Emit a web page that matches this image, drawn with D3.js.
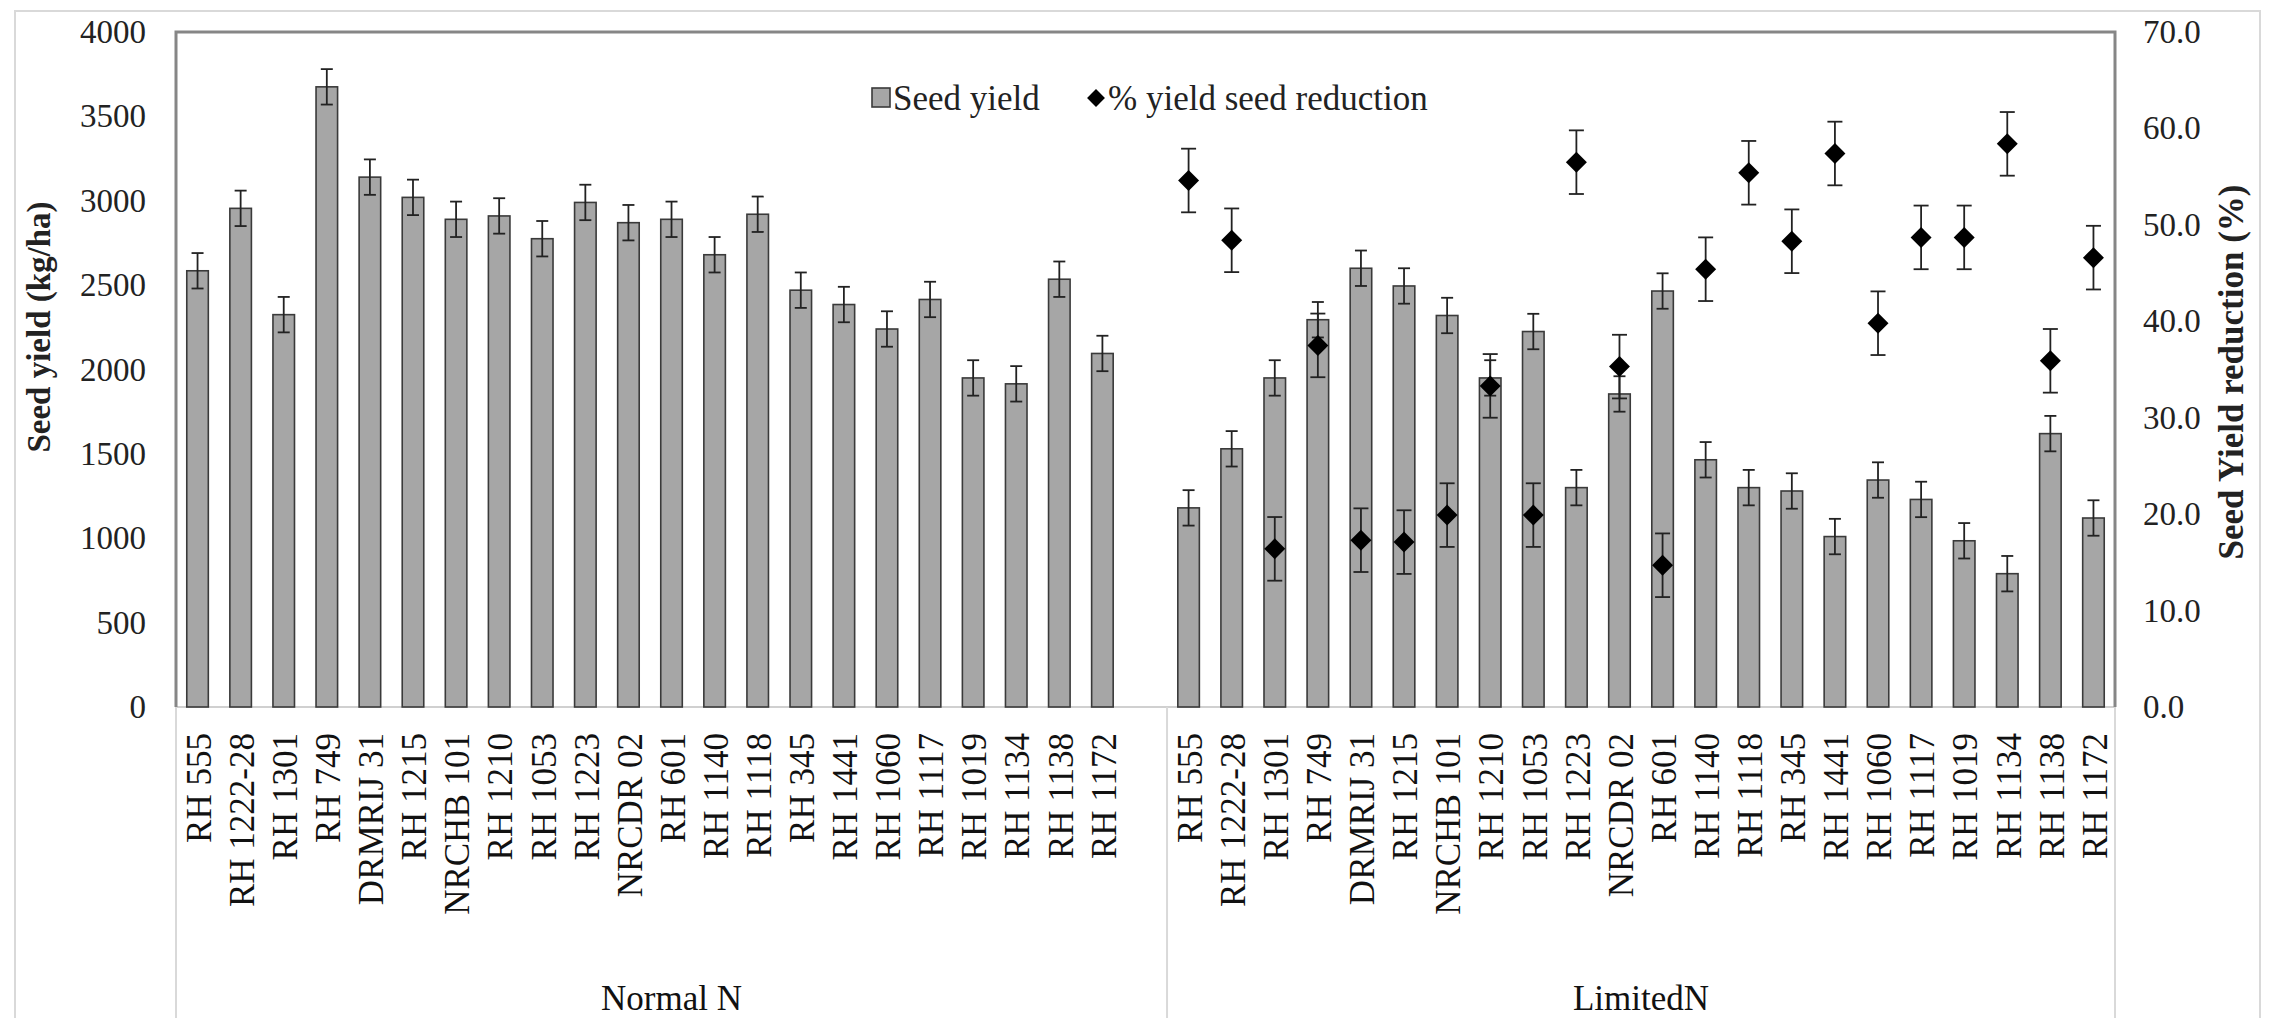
<!DOCTYPE html>
<html>
<head>
<meta charset="utf-8">
<script src="https://cdn.jsdelivr.net/npm/d3@7"></script>
<style>
  html, body { margin: 0; padding: 0; background: #fff; }
  svg { display: block; font-family: "Liberation Serif", "Times New Roman", serif; }
</style>
</head>
<body>
<div id="chart"></div>
<script>
// genotype order, same for both N levels
const genotypes = ['RH 555', 'RH 1222-28', 'RH 1301', 'RH 749', 'DRMRIJ 31', 'RH 1215', 'NRCHB 101',
  'RH 1210', 'RH 1053', 'RH 1223', 'NRCDR 02', 'RH 601', 'RH 1140', 'RH 1118', 'RH 345', 'RH 1441',
  'RH 1060', 'RH 1117', 'RH 1019', 'RH 1134', 'RH 1138', 'RH 1172'];
const groups = ['Normal N', 'LimitedN'];

// seed yield (kg/ha)
const yieldNormal = [2585, 2955, 2325, 3675, 3140, 3020, 2890, 2910, 2775, 2990, 2870, 2890,
  2680, 2920, 2470, 2385, 2240, 2415, 1950, 1915, 2535, 2095];
const yieldLimited = [1180, 1530, 1950, 2295, 2600, 2495, 2320, 1950, 2225, 1300, 1855, 2465,
  1465, 1300, 1280, 1010, 1345, 1230, 985, 790, 1620, 1120];
const yieldError = 105;

// % seed yield reduction under limited N
const reduction = [54.6, 48.4, 16.4, 37.5, 17.3, 17.1, 19.9, 33.3, 19.9, 56.5, 35.3, 14.7,
  45.4, 55.4, 48.3, 57.4, 39.8, 48.7, 48.7, 58.4, 35.9, 46.6];
const reductionError = 3.3;

const yTicks = [0, 500, 1000, 1500, 2000, 2500, 3000, 3500, 4000];
const y2Ticks = [0, 10, 20, 30, 40, 50, 60, 70];

const width = 2272, height = 1018;
const margin = {top: 32, right: 157, bottom: 311, left: 176};
const grey = '#a6a6a6';
const dark = '#3a3a3a';

const svg = d3.select('#chart').append('svg')
  .attr('width', width).attr('height', height);

// one slot per bar, an empty slot closes the Normal N block
const slots = [];
genotypes.forEach((g, i) => slots.push({key: 'N|' + g, label: g, value: yieldNormal[i], group: 0}));
slots.push({key: 'N|gap', label: '', value: null, group: 0});
genotypes.forEach((g, i) => slots.push({key: 'L|' + g, label: g, value: yieldLimited[i], group: 1, red: reduction[i]}));

const x = d3.scaleBand()
  .domain(slots.map(d => d.key))
  .range([margin.left, width - margin.right])
  .paddingInner(0.5).paddingOuter(0.25);

const y = d3.scaleLinear().domain([0, 4000]).range([height - margin.bottom, margin.top]);
const y2 = d3.scaleLinear().domain([0, 70]).range([height - margin.bottom, margin.top]);

const x0 = margin.left, x1 = width - margin.right;
const yBase = y(0);
const cx = d => x(d.key) + x.bandwidth() / 2;

// outer chart frame
svg.append('rect')
  .attr('x', 15).attr('y', 11).attr('width', 2245).attr('height', 1100)
  .attr('fill', 'none').attr('stroke', '#d9d9d9').attr('stroke-width', 2);

// category axis line and group dividers
svg.append('line')
  .attr('x1', x0).attr('x2', x1).attr('y1', yBase).attr('y2', yBase)
  .attr('stroke', '#d0d0d0').attr('stroke-width', 2);

const step = x.step();
const split = x0 + step * (genotypes.length + 1);
[x0, split, x1].forEach(px => {
  svg.append('line')
    .attr('x1', px).attr('x2', px).attr('y1', yBase).attr('y2', height)
    .attr('stroke', '#d9d9d9').attr('stroke-width', 2);
});

// bars
const barSlots = slots.filter(d => d.value !== null);
svg.append('g').selectAll('rect')
  .data(barSlots)
  .join('rect')
  .attr('x', d => x(d.key))
  .attr('y', d => y(d.value))
  .attr('width', x.bandwidth())
  .attr('height', d => yBase - y(d.value))
  .attr('fill', grey)
  .attr('stroke', dark)
  .attr('stroke-width', 1.6);

// yield error bars
const capW = 6;
const eb = svg.append('g').attr('stroke', '#222').attr('stroke-width', 1.8);
barSlots.forEach(d => {
  const top = y(d.value + yieldError), bot = y(d.value - yieldError);
  eb.append('line').attr('x1', cx(d)).attr('x2', cx(d)).attr('y1', top).attr('y2', bot);
  eb.append('line').attr('x1', cx(d) - capW).attr('x2', cx(d) + capW).attr('y1', top).attr('y2', top);
  eb.append('line').attr('x1', cx(d) - capW).attr('x2', cx(d) + capW).attr('y1', bot).attr('y2', bot);
});

// reduction points with error bars
const redSlots = slots.filter(d => d.red !== undefined);
const rb = svg.append('g').attr('stroke', '#222').attr('stroke-width', 1.8);
redSlots.forEach(d => {
  const top = y2(d.red + reductionError), bot = y2(d.red - reductionError);
  rb.append('line').attr('x1', cx(d)).attr('x2', cx(d)).attr('y1', top).attr('y2', bot);
  rb.append('line').attr('x1', cx(d) - 7.5).attr('x2', cx(d) + 7.5).attr('y1', top).attr('y2', top);
  rb.append('line').attr('x1', cx(d) - 7.5).attr('x2', cx(d) + 7.5).attr('y1', bot).attr('y2', bot);
});

const diamond = d3.symbol().type(d3.symbolSquare).size(220);
svg.append('g').selectAll('path')
  .data(redSlots)
  .join('path')
  .attr('d', diamond)
  .attr('transform', d => `translate(${cx(d)},${y2(d.red)}) rotate(45)`)
  .attr('fill', '#000');

// plot frame (top, left, right)
svg.append('path')
  .attr('d', `M${x0},${yBase}V${margin.top}H${x1}V${yBase}`)
  .attr('fill', 'none').attr('stroke', '#868686').attr('stroke-width', 3);

// left axis
svg.append('g')
  .attr('transform', `translate(${x0},0)`)
  .call(d3.axisLeft(y).tickValues(yTicks).tickSize(0).tickPadding(30).tickFormat(d3.format('d')))
  .call(g => g.select('.domain').remove())
  .selectAll('text')
  .attr('font-family', 'Liberation Serif').attr('font-size', 33).attr('fill', '#222');

// right axis
svg.append('g')
  .attr('transform', `translate(${x1},0)`)
  .call(d3.axisRight(y2).tickValues(y2Ticks).tickSize(0).tickPadding(28).tickFormat(d3.format('.1f')))
  .call(g => g.select('.domain').remove())
  .selectAll('text')
  .attr('font-family', 'Liberation Serif').attr('font-size', 33).attr('fill', '#222');

// category labels
svg.append('g').selectAll('text')
  .data(barSlots)
  .join('text')
  .attr('transform', d => `translate(${cx(d) + 1},${yBase + 26}) rotate(-90)`)
  .attr('dy', '0.35em')
  .attr('text-anchor', 'end')
  .attr('font-size', 35)
  .attr('fill', '#111')
  .text(d => d.label);

// group labels
[[x0, split], [split, x1]].forEach(([a, b], i) => {
  svg.append('text')
    .attr('x', (a + b) / 2).attr('y', 1010)
    .attr('text-anchor', 'middle')
    .attr('font-size', 35)
    .attr('fill', '#111')
    .text(groups[i]);
});

// axis titles
svg.append('text')
  .attr('transform', 'translate(50,327) rotate(-90)')
  .attr('text-anchor', 'middle')
  .attr('font-size', 33).attr('font-weight', 'bold').attr('fill', '#222')
  .text('Seed yield (kg/ha)');

svg.append('text')
  .attr('transform', 'translate(2243,372) rotate(-90)')
  .attr('text-anchor', 'middle')
  .attr('font-size', 35).attr('font-weight', 'bold').attr('fill', '#222')
  .text('Seed Yield reduction (%)');

// legend
const legend = svg.append('g').attr('font-size', 35).attr('fill', '#222');
legend.append('rect')
  .attr('x', 872).attr('y', 88).attr('width', 18).attr('height', 19)
  .attr('fill', grey).attr('stroke', dark).attr('stroke-width', 1.6);
legend.append('text').attr('x', 893).attr('y', 110).text('Seed yield');
legend.append('path')
  .attr('d', d3.symbol().type(d3.symbolSquare).size(160))
  .attr('transform', 'translate(1096,98) rotate(45)')
  .attr('fill', '#000');
legend.append('text').attr('x', 1108).attr('y', 110).text('% yield seed reduction');
</script>
</body>
</html>
